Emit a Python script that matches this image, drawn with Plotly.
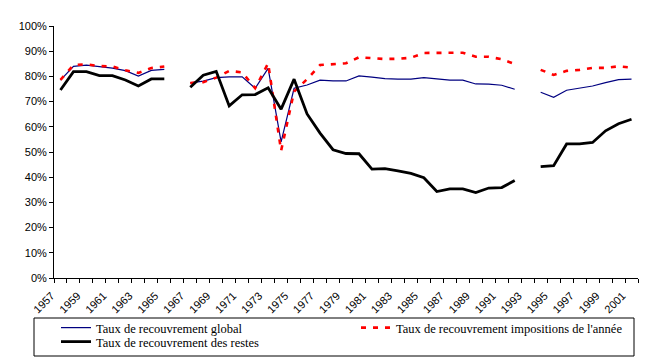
import plotly.graph_objects as go

years = list(range(1957, 2002))

taux_global = [78.5, 84.0, 84.5, 83.9, 83.3, 82.3, 80.1, 82.4, 82.8, None,
               77.4, 78.1, 79.5, 79.8, 79.8, 75.3, 83.2, 54.0, 75.3, 76.6,
               78.5, 78.2, 78.2, 80.2, 79.7, 79.1, 78.9, 78.9, 79.5, 78.9,
               78.5, 78.5, 77.0, 76.9, 76.5, 74.9, None,
               73.7, 71.7, 74.5, 75.4, 76.2, 77.5, 78.7, 78.9]

taux_impositions = [78.6, 84.5, 84.8, 84.1, 84.0, 82.4, 81.4, 83.3, 83.9, None,
                    77.4, 77.7, 79.5, 82.2, 81.6, 75.3, 85.2, 50.5, 74.0, 78.9,
                    84.5, 84.8, 85.2, 87.6, 87.2, 86.9, 87.0, 87.4, 89.3, 89.4,
                    89.4, 89.4, 87.8, 87.8, 86.8, 84.9, None,
                    82.6, 80.6, 82.2, 82.6, 83.4, 83.4, 84.0, 83.5]

taux_restes = [74.6, 81.9, 81.9, 80.3, 80.3, 78.6, 76.2, 79.0, 79.0, None,
               75.7, 80.5, 82.0, 68.3, 72.7, 72.8, 75.5, 67.0, 78.9, 65.1,
               57.5, 50.9, 49.4, 49.3, 43.2, 43.4, 42.5, 41.5, 39.8, 34.3,
               35.4, 35.4, 33.9, 35.7, 35.9, 38.7, None,
               44.2, 44.6, 53.2, 53.2, 53.8, 58.4, 61.2, 63.0]

label_years = years[::2]
tick_labels = [str(y) for y in label_years]

# the page body has an 8px margin, so the figure is drawn 8px in from the window edge
OFF = 8
W, H = 670 - OFF, 360 - OFF
ML, MT = 54 - OFF, 26 - OFF
MR = W - (638 - OFF)
MB = H - (278 - OFF)
PW, PH = W - ML - MR, H - MT - MB


def px(x):
    return (x - OFF - ML) / PW


def py(y):
    return (H - MB - (y - OFF)) / PH


def frac(vals):
    return [None if v is None else v / 100 for v in vals]


fig = go.Figure()
fig.add_trace(go.Scatter(
    x=years, y=frac(taux_global), mode="lines",
    name="Taux de recouvrement global",
    line=dict(color="#000080", width=1.2),
    connectgaps=False, legend="legend"))
fig.add_trace(go.Scatter(
    x=years, y=frac(taux_impositions), mode="lines",
    name="Taux de recouvrement impositions de l'année",
    line=dict(color="#FF0000", width=2.6, dash="5px,7px"),
    connectgaps=False, legend="legend2"))
fig.add_trace(go.Scatter(
    x=years, y=frac(taux_restes), mode="lines",
    name="Taux de recouvrement des restes",
    line=dict(color="#000000", width=2.8),
    connectgaps=False, legend="legend3"))

legend_font = dict(family="Liberation Serif", size=12.5, color="black")
common_leg = dict(xanchor="left", yanchor="middle", bgcolor="rgba(0,0,0,0)",
                  borderwidth=0, font=legend_font, orientation="v")

fig.update_layout(
    width=W, height=H,
    margin=dict(l=ML, r=MR, t=MT, b=MB, autoexpand=False),
    paper_bgcolor="white", plot_bgcolor="white",
    font=dict(family="Liberation Sans", size=11, color="black"),
    legend=dict(x=px(56), y=py(328), **common_leg),
    legend2=dict(x=px(356), y=py(328), **common_leg),
    legend3=dict(x=px(56), y=py(342), **common_leg),
    xaxis=dict(
        range=[1956.5, 2001.5],
        tickmode="array", tickvals=label_years, ticktext=tick_labels,
        ticks="", tickangle=-45, showgrid=False, zeroline=False,
        showline=True, linecolor="black", linewidth=1,
        tickfont=dict(family="Liberation Sans", size=11, color="black"),
        ticklabelstandoff=6, ticklabelshift=-9,
        minor=dict(tickmode="array",
                   tickvals=[y - 0.5 for y in years] + [years[-1] + 0.5],
                   ticks="outside", ticklen=4, tickcolor="black", tickwidth=1,
                   showgrid=False),
    ),
    yaxis=dict(
        range=[0, 1], dtick=0.1, tick0=0, tickformat=".0%",
        ticks="outside", ticklen=4, tickcolor="black",
        showline=True, linecolor="black", linewidth=1,
        showgrid=False, zeroline=False,
        tickfont=dict(family="Liberation Sans", size=11, color="black"),
    ),
    shapes=[dict(type="rect", xref="paper", yref="paper",
                 x0=px(34), x1=px(634), y0=py(318), y1=py(356),
                 line=dict(color="black", width=1), fillcolor="rgba(0,0,0,0)",
                 layer="above")],
    showlegend=True,
)

fig.write_html("out.html")
